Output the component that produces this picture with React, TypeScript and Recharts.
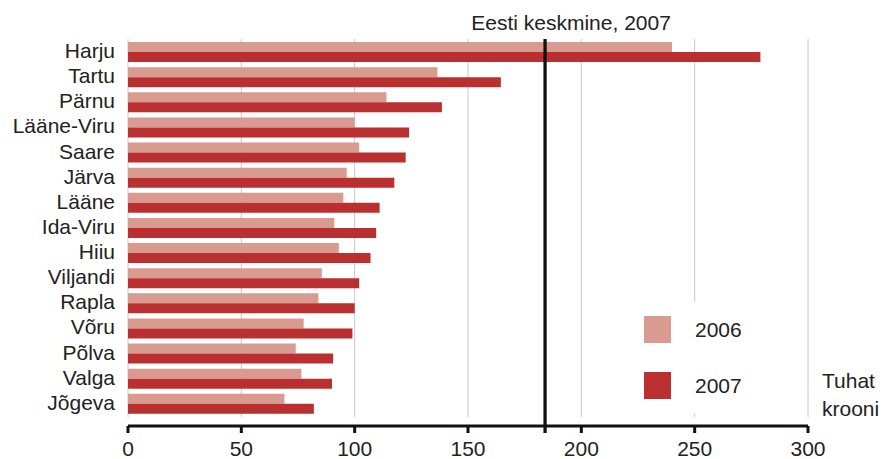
import React from 'react';
import {
  BarChart, Bar, XAxis, YAxis, CartesianGrid, ReferenceLine, Legend,
} from 'recharts';

const COUNTIES = [
  'Harju', 'Tartu', 'Pärnu', 'Lääne-Viru', 'Saare', 'Järva', 'Lääne', 'Ida-Viru',
  'Hiiu', 'Viljandi', 'Rapla', 'Võru', 'Põlva', 'Valga', 'Jõgeva',
];
const VALUES_2006 = [240, 136.5, 114, 100, 102, 96.5, 95, 91, 93, 85.5, 84, 77.5, 74, 76.5, 69];
const VALUES_2007 = [279, 164.5, 138.5, 124, 122.5, 117.5, 111, 109.5, 107, 102, 100, 99, 90.5, 90, 82];
const X_TICKS = [0, 50, 100, 150, 200, 250, 300];
const ESTONIA_AVG_2007 = 184;
const AVG_LABEL = 'Eesti keskmine, 2007';
const UNIT_LINES = ['Tuhat', 'krooni'];

const C2006 = '#d99a90';
const C2007 = '#ba2f2f';
const FONT = '"Liberation Sans", Arial, Helvetica, sans-serif';
const TXT = '#222';

const data = COUNTIES.map((name, i) => ({
  name,
  y2006: VALUES_2006[i],
  y2007: VALUES_2007[i],
}));

function LegendBox({ payload }: any) {
  return (
    <div style={{ position: 'relative', width: 190, height: 111, background: '#fff' }}>
      {(payload || []).map((p: any, i: number) => (
        <React.Fragment key={p.value}>
          <div
            style={{
              position: 'absolute', left: 39, top: 14 + i * 56,
              width: 27, height: 27, background: p.color,
            }}
          />
          <div
            style={{
              position: 'absolute', left: 90, top: 14 + i * 56, lineHeight: '27px',
              fontSize: 21, color: TXT, fontFamily: FONT,
            }}
          >
            {p.value}
          </div>
        </React.Fragment>
      ))}
    </div>
  );
}

export default function App() {
  return (
    <div style={{ position: 'absolute', left: 0, top: 0, width: 883, height: 459, fontFamily: FONT }}>
      <BarChart
        width={883}
        height={459}
        data={data}
        layout="vertical"
        margin={{ top: 39, right: 75, left: 0, bottom: 0 }}
        barCategoryGap={3}
        barGap={0}
      >
        <CartesianGrid
          horizontal={false}
          vertical={(p: any) => (
            <line key={p.key} x1={p.x1} x2={p.x2} y1={p.y1} y2={p.y2 - 9} stroke="#c8c8d0" strokeWidth={1} />
          )}
        />
        <XAxis
          type="number"
          domain={[0, 300]}
          ticks={X_TICKS}
          interval={0}
          height={33}
          axisLine={{ stroke: '#111', strokeWidth: 3 }}
          tickLine={{ stroke: '#111', strokeWidth: 3 }}
          tickSize={7}
          tickMargin={8}
          tick={{ fill: TXT, fontSize: 21, fontFamily: FONT }}
        />
        <YAxis
          type="category"
          dataKey="name"
          width={128}
          axisLine={false}
          tickLine={false}
          tickSize={0}
          tickMargin={13}
          interval={0}
          padding={{ top: 0, bottom: 10 }}
          tick={{ fill: TXT, fontSize: 21, fontFamily: FONT, dy: -1 }}
        />
        <Bar dataKey="y2006" name="2006" fill={C2006} isAnimationActive={false} />
        <Bar dataKey="y2007" name="2007" fill={C2007} isAnimationActive={false} />
        <ReferenceLine
          x={ESTONIA_AVG_2007}
          stroke="#111"
          strokeWidth={3.3}
          shape={(p: any) => (
            <line x1={p.x1} x2={p.x2} y1={p.y1 + 7} y2={p.y2} stroke="#111" strokeWidth={3.3} />
          )}
          label={{
            value: AVG_LABEL, position: 'top', offset: 9, dx: 26,
            fill: TXT, fontSize: 21, fontFamily: FONT,
          }}
        />
        <Legend
          layout="vertical"
          align="center"
          verticalAlign="middle"
          content={<LegendBox />}
          wrapperStyle={{ left: 605, top: 302, width: 190, height: 111 }}
        />
      </BarChart>
      <div
        style={{
          position: 'absolute', left: 822, top: 367, fontSize: 21, lineHeight: '28px',
          color: TXT, fontFamily: FONT,
        }}
      >
        {UNIT_LINES.map((l) => <div key={l}>{l}</div>)}
      </div>
    </div>
  );
}
